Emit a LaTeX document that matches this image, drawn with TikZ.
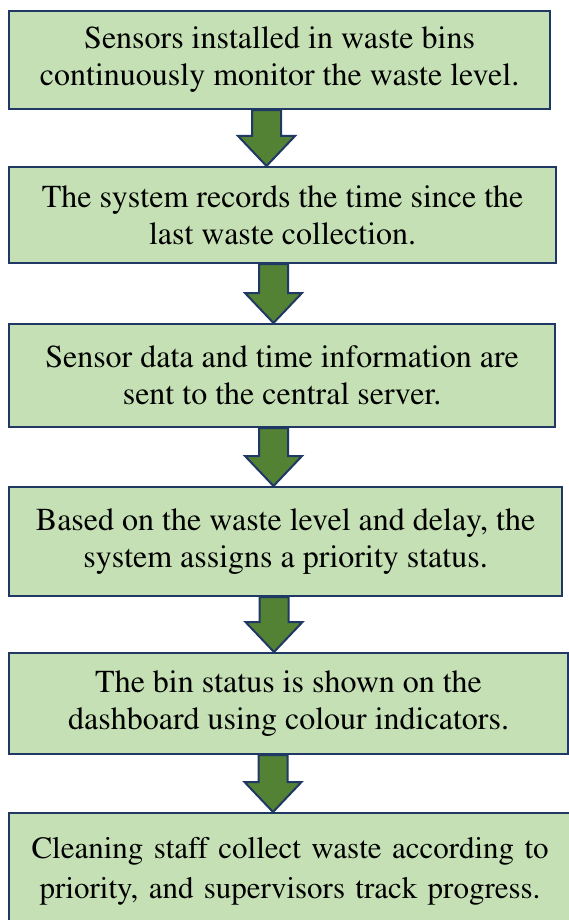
\documentclass[tikz,border=0pt]{standalone}
\usepackage[T1]{fontenc}
\usepackage{mathptmx}
\usetikzlibrary{calc}
\definecolor{boxfill}{HTML}{C5E0B4}
\definecolor{navy}{HTML}{1F3864}
\definecolor{arrowgreen}{HTML}{548235}
\tikzset{
  stepbox/.style={draw=navy, line width=2.2pt, fill=boxfill, anchor=north west, align=center, inner sep=0pt, font=\fontsize{32}{37}\selectfont},
  blockarrow/.style={draw=navy, line width=2pt, fill=arrowgreen, line join=miter},
}
\begin{document}
\begin{tikzpicture}[x=1pt,y=-1pt]
\useasboundingbox (0,0) rectangle (568,920);
\node[stepbox, minimum width=541pt, minimum height=98pt] (b1) at (8,10) {Sensors installed in waste bins\\continuously monitor the waste level.};
\node[stepbox, minimum width=547pt, minimum height=96pt] (b2) at (8,166) {The system records the time since the\\last waste collection.};
\node[stepbox, minimum width=546pt, minimum height=103pt] (b3) at (8,323) {Sensor data and time information are\\sent to the central server.};
\node[stepbox, minimum width=553pt, minimum height=109pt] (b4) at (8,486) {Based on the waste level and delay, the\\system assigns a priority status.};
\node[stepbox, minimum width=559pt, minimum height=101pt] (b5) at (8,652) {The bin status is shown on the\\dashboard using colour indicators.};
\node[stepbox, minimum width=562pt, minimum height=116pt, text width=552pt, font=\fontsize{31}{40}\selectfont] (b6) at (8,812) {Cleaning staff collect waste according to\\priority, and supervisors track progress.\\[24pt]};
\foreach \a/\b/\c in {b1/b2/266.5, b2/b3/273.5, b3/b4/273.5, b4/b5/274, b5/b6/273}{
  \draw[blockarrow] ($(\a.south -| \c,0)+(-14.5,0)$) -- ($(\b.north -| \c,0)+(-14.5,-30)$) -- ($(\b.north -| \c,0)+(-28.5,-30)$) -- (\b.north -| \c,0) -- ($(\b.north -| \c,0)+(28.5,-30)$) -- ($(\b.north -| \c,0)+(14.5,-30)$) -- ($(\a.south -| \c,0)+(14.5,0)$) -- cycle;
}
\end{tikzpicture}
\end{document}
